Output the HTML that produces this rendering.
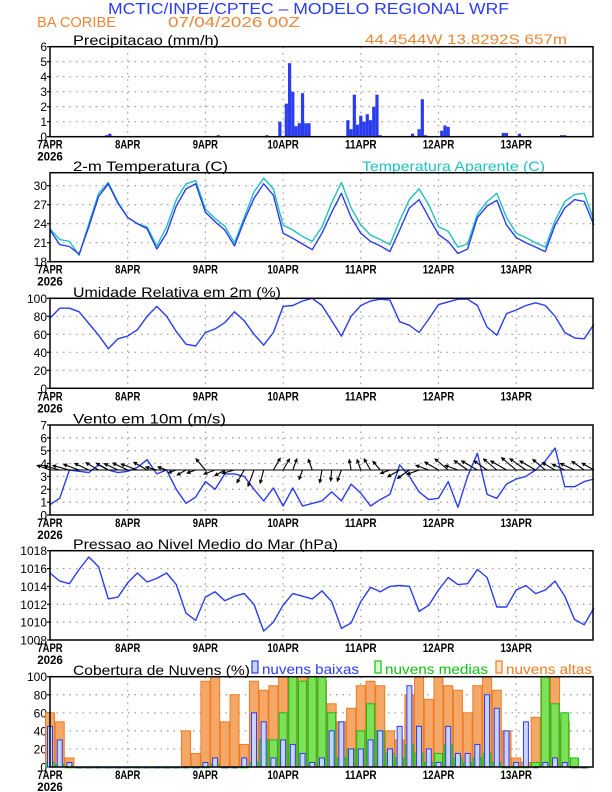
<!DOCTYPE html>
<html><head><meta charset="utf-8">
<style>
html,body{margin:0;padding:0;background:#fff;}
svg{display:block;font-family:"Liberation Sans",sans-serif;}
</style></head>
<body>
<svg id="chart" width="612" height="792" viewBox="0 0 612 792" xmlns="http://www.w3.org/2000/svg">
<text x="108" y="14" font-size="15.5" fill="#2a3cf0" textLength="401" lengthAdjust="spacingAndGlyphs">MCTIC/INPE/CPTEC – MODELO REGIONAL WRF</text>
<text x="37" y="27" font-size="15" fill="#e8883a" textLength="79" lengthAdjust="spacingAndGlyphs">BA CORIBE</text>
<text x="168" y="27" font-size="15" fill="#e8883a" textLength="132" lengthAdjust="spacingAndGlyphs">07/04/2026 00Z</text>
<text x="365" y="44" font-size="14" fill="#e8883a" textLength="202" lengthAdjust="spacingAndGlyphs">44.4544W 13.8292S 657m</text>
<text x="362" y="171" font-size="14" fill="#20c0c0" textLength="183" lengthAdjust="spacingAndGlyphs">Temperatura Aparente (C)</text>
<g id="plots"></g>
</svg>
<script>
const hours = [];
for (let h = 0; h <= 168; h += 3) hours.push(h);
const dayLabels = ["7APR","8APR","9APR","10APR","11APR","12APR","13APR"];

const precipHours = [17.5,18.5,19.5,49,52,67,71,73,74,75,76,77,78,79,80,86,92,93,94,95,96,97,98,99,100,101,102,111,112,114,115,116,121,122,123,140,141,145,158,159];
const precipValues = [0.1,0.2,0.05,0.05,0.1,0.1,1.0,2.2,4.9,3.0,0.7,0.9,2.9,0.9,0.9,0.05,1.1,0.5,2.8,0.8,1.4,1.0,1.5,1.1,2.0,2.8,0.1,0.05,0.2,0.5,2.5,0.1,0.4,0.75,0.65,0.25,0.25,0.2,0.1,0.1];

const tempValues = [23,20.7,20.4,19.2,23.5,28.3,30.3,27.2, 25.0,24.0,23.2,20.0,22.5,26.8,29.5,30.3, 25.8,24.3,23.0,20.5,24.5,28.0,30.3,28.5, 22.5,21.7,20.8,19.9,22.5,25.8,28.8,25.0, 22.5,21.2,20.5,19.6,23.0,26.5,27.8,25.0, 22.3,21.2,19.3,20.0,25.0,26.8,27.7,23.8, 21.8,21.0,20.3,19.6,23.8,26.5,27.8,27.5,23.8];
const apparentValues = [23.2,21.5,21.2,19.0,24.0,28.8,30.5,27.4, 25.0,24.0,23.5,20.5,23.5,27.8,30.3,30.8, 26.3,24.8,23.6,21.0,25.0,29.0,31.2,29.5, 23.8,23.0,22.0,21.2,23.5,27.3,30.5,26.5, 23.8,22.2,21.5,20.7,24.5,27.8,29.5,27.0, 23.5,22.8,20.3,20.8,25.5,27.5,28.8,25.0, 22.5,21.8,21.0,20.3,24.5,27.5,28.6,28.8,24.5];
const rhValues = [78,89,89,85,72,59,44,55, 58,65,80,91,80,63,49,47, 62,66,73,85,75,60,48,62, 91,92,97,100,92,75,58,80, 92,97,99,98,74,70,62,77, 93,96,99,99,92,68,59,83, 87,92,95,92,80,62,56,55,71];
const windSpeed = [0.8,1.3,3.5,3.4,3.3,3.9,3.5,3.3, 3.4,3.7,4.3,3.2,3.5,2.0,0.9,1.4, 2.6,2.0,3.2,3.2,3.0,2.0,1.1,2.1, 0.7,2.1,0.7,0.9,1.1,1.8,1.1,2.4, 1.7,0.7,1.2,1.6,3.9,3.0,1.8,1.2, 1.3,2.6,0.6,3.0,4.8,1.6,1.3,2.4, 2.8,3.0,3.5,4.2,5.2,2.2,2.2,2.6,2.8];
const windDir = [160,165,165,160,155,150,150,155, 155,160,150,165,160,200,210,200, 130,200,210,195,240,250,255,60, 60,70,250,110,260,265,250,100, 110,120,130,200,210,215,200,160, 150,140,160,145,150,145,140,150, 140,145,150,140,150,155,155,145,150];
const windMag = [3.0,3.5,3.8,3.6,3.4,3.2,3.0,3.3, 3.6,3.8,3.4,2.5,2.0,1.8,2.2,2.0, 3.2,2.6,2.5,2.8,3.2,3.8,3.0,3.0, 2.8,2.6,2.2,2.5,2.8,2.4,2.6,2.3, 2.4,2.8,2.5,2.2,3.0,3.2,2.8,3.0, 3.5,3.8,3.0,3.6,4.0,3.5,3.8,4.0, 4.2,4.3,4.0,3.6,3.2,3.0,3.4,3.3,3.0];
const pressureValues = [1015.5,1014.6,1014.3,1015.9,1017.3,1016.2,1012.6,1012.8, 1014.4,1015.5,1014.5,1014.9,1015.5,1014.2,1011.0,1010.2, 1012.8,1013.4,1012.4,1012.9,1013.2,1012.0,1009.0,1010.0, 1011.9,1013.2,1012.9,1012.6,1013.5,1012.3,1009.3,1009.9, 1012.3,1013.9,1013.4,1014.0,1014.1,1014.0,1011.2,1011.9, 1013.6,1015.0,1014.2,1014.3,1015.9,1015.0,1011.7,1011.7, 1013.6,1014.1,1013.2,1013.6,1014.6,1012.9,1010.3,1009.7,1011.6];
const cloudHigh = [60,50,10,0,0,0,0,0, 0,0,0,0,0,0,40,15, 95,100,50,80,25,95,85,90, 100,100,100,100,95,70,50,65, 90,95,90,40,30,80,100,75, 100,90,85,60,90,100,85,40, 10,5,55,100,100,50,0,0,0];
const cloudMid = [5,3,0,0,0,0,0,0, 0,0,0,0,0,0,0,0, 0,3,0,0,0,5,30,30, 60,100,95,100,100,60,10,20, 40,70,40,15,10,25,15,5, 15,25,10,5,10,15,5,0, 0,0,5,100,70,60,10,0,0];
const cloudLow = [45,30,5,0,0,0,0,0, 0,0,0,0,0,0,0,0, 5,10,0,0,10,60,50,10, 30,25,15,5,10,40,50,20, 20,30,40,20,45,90,45,20, 5,45,15,15,25,80,65,40, 5,50,0,5,10,5,0,0,0];

const NS = "http://www.w3.org/2000/svg";
const plots = document.getElementById('plots');
const X0 = 50, PXH = 77.7/24;
function xOf(h){ return X0 + h*PXH; }
const XR = 593;
function mk(tag, attrs, parent){ const e=document.createElementNS(NS,tag); for(const k in attrs) e.setAttribute(k,attrs[k]); (parent||plots).appendChild(e); return e; }

const panels = {
  precip:{top:46.7,bot:136.7,min:0,max:6,ticks:[0,1,2,3,4,5,6],title:"Precipitacao (mm/h)",tw:146},
  temp:{top:172.7,bot:261.7,min:18,max:32.05,ticks:[18,21,24,27,30],title:"2-m Temperatura (C)",tw:155},
  rh:{top:298.3,bot:388.3,min:0,max:100,ticks:[0,20,40,60,80,100],title:"Umidade Relativa em 2m (%)",tw:208},
  wind:{top:425,bot:515,min:0,max:7,ticks:[0,1,2,3,4,5,6,7],title:"Vento em 10m (m/s)",tw:153},
  pres:{top:550.7,bot:640,min:1008,max:1018,ticks:[1008,1010,1012,1014,1016,1018],title:"Pressao ao Nivel Medio do Mar (hPa)",tw:265},
  cloud:{top:676.7,bot:767,min:0,max:100,ticks:[0,20,40,60,80,100],title:"Cobertura de Nuvens (%)",tw:177}
};
function yOf(p,v){ return p.bot - (v-p.min)/(p.max-p.min)*(p.bot-p.top); }

function drawFrame(key, p){
  const g = mk('g',{});
  
  
  p.g = g;
  p.ticks.forEach(t=>{
    const y=yOf(p,t);
    if(y>p.top+1 && y<p.bot-1){
      const l=mk('line',{x1:X0,x2:XR,y1:y,y2:y,stroke:'#999','stroke-width':1.2,'stroke-dasharray':'1.5,5'},g);
      
      
    }
    const tx=mk('text',{x:47,y:y+4.5,'font-size':12,'text-anchor':'end',fill:'#000'},g);
    tx.textContent=t;
    
    
    mk('line',{x1:X0-3,x2:X0,y1:y,y2:y,stroke:'#000','stroke-width':1.2},g);
  });
  dayLabels.forEach((d,i)=>{
    const x=xOf(i*24);
    if(i>0){
      const l=mk('line',{x1:x,x2:x,y1:p.top,y2:p.bot,stroke:'#999','stroke-width':1.2,'stroke-dasharray':'1.5,5'},g);
      
      
    }
    const tx=mk('text',{x:x,y:p.bot+12,'font-size':11.5,'text-anchor':'middle',fill:'#000','font-weight':'bold',textLength:d.length*6.3,lengthAdjust:'spacingAndGlyphs'},g);
    tx.textContent=d;
    
    
  });
  const yr=mk('text',{x:xOf(0),y:p.bot+24,'font-size':11.5,'text-anchor':'middle',fill:'#000','font-weight':'bold'},g);
  yr.textContent="2026";
  
  
  const tt=mk('text',{x:73,y:p.top-1.5,'font-size':14,fill:'#000',textLength:p.tw,lengthAdjust:'spacingAndGlyphs'},g);
  tt.textContent=p.title;
  
  
}
function drawBorder(key,p){
  const r=mk('rect',{x:X0,y:p.top,width:XR-X0,height:p.bot-p.top,fill:'none',stroke:'#000','stroke-width':1.5});
  
  
}
function drawLine(key,p,vals,color,name){
  const pts=vals.map((v,i)=>xOf(hours[i]).toFixed(1)+','+yOf(p,v).toFixed(1)).join(' ');
  const l=mk('polyline',{points:pts,fill:'none',stroke:color,'stroke-width':1.4,'stroke-linejoin':'round'},p.g);
  
  
}

for(const k in panels) drawFrame(k,panels[k]);

{
  const p=panels.precip;
  precipValues.forEach((v,i)=>{
    const x=xOf(precipHours[i]);
    const r=mk('rect',{x:x-1.6,y:yOf(p,v),width:3.2,height:p.bot-yOf(p,v),fill:'#2a3cf0'},p.g);
    
    
  });
}
drawLine('temp',panels.temp,apparentValues,'#20c0c0','apparent-temp-line');
drawLine('temp',panels.temp,tempValues,'#2a3cf0','temp-line');
drawLine('rh',panels.rh,rhValues,'#2a3cf0','rh-line');
drawLine('wind',panels.wind,windSpeed,'#2a3cf0','wind-speed-line');
{
  const p=panels.wind; const y0=yOf(p,3.5);
  windDir.forEach((d,i)=>{
    const x=xOf(hours[i]); const L=windMag[i]*4.5;
    const a=d*Math.PI/180;
    const x2=x+L*Math.cos(a), y2=y0-L*Math.sin(a);
    const h1=a+Math.PI-0.45, h2=a+Math.PI+0.45;
    const path=`M${x},${y0}L${x2},${y2}M${x2+3.5*Math.cos(h1)},${y2-3.5*Math.sin(h1)}L${x2},${y2}L${x2+3.5*Math.cos(h2)},${y2-3.5*Math.sin(h2)}`;
    const e=mk('path',{d:path,stroke:'#000','stroke-width':1.1,fill:'none'},p.g);
    
    
  });
  const bl=mk('line',{x1:X0,x2:XR,y1:y0,y2:y0,stroke:'#000','stroke-width':1},p.g);
  
  
}
drawLine('pres',panels.pres,pressureValues,'#2a3cf0','pressure-line');
{
  const p=panels.cloud;
  const series=[[cloudHigh,'#f4a868','#f07a20','cloud-high-bar',9],[cloudMid,'#7ce05a','#10c010','cloud-mid-bar',8],[cloudLow,'#c8d4ff','#2a3cf0','cloud-low-bar',5]];
  series.forEach(s=>{
    s[0].forEach((v,i)=>{
      if(hours[i]>167) return;
      const x=xOf(hours[i]);
      const y=yOf(p,v);
      const w=s[4];
      const r=mk('rect',{x:x-w/2,y:y,width:w,height:Math.max(p.bot-y,0.8),fill:s[1],stroke:s[2],'stroke-width':1},p.g);
      
      
    });
  });
  const lg=[[252,'#2a3cf0','#c8d4ff','nuvens baixas','legend-low-clouds',97],[375,'#10c010','#d8ffd0','nuvens medias','legend-mid-clouds',103],[496,'#f07a20','#ffe0c8','nuvens altas','legend-high-clouds',86]];
  lg.forEach(l=>{
    const g=mk('g',{});
    
    
    mk('rect',{x:l[0],y:661,width:6,height:12,fill:l[2],stroke:l[1],'stroke-width':1.2},g);
    const t=mk('text',{x:l[0]+10,y:674,'font-size':14,fill:l[1],textLength:l[5],lengthAdjust:'spacingAndGlyphs'},g);
    t.textContent=l[3];
  });
}
for(const k in panels) drawBorder(k,panels[k]);
</script>
</body></html>
